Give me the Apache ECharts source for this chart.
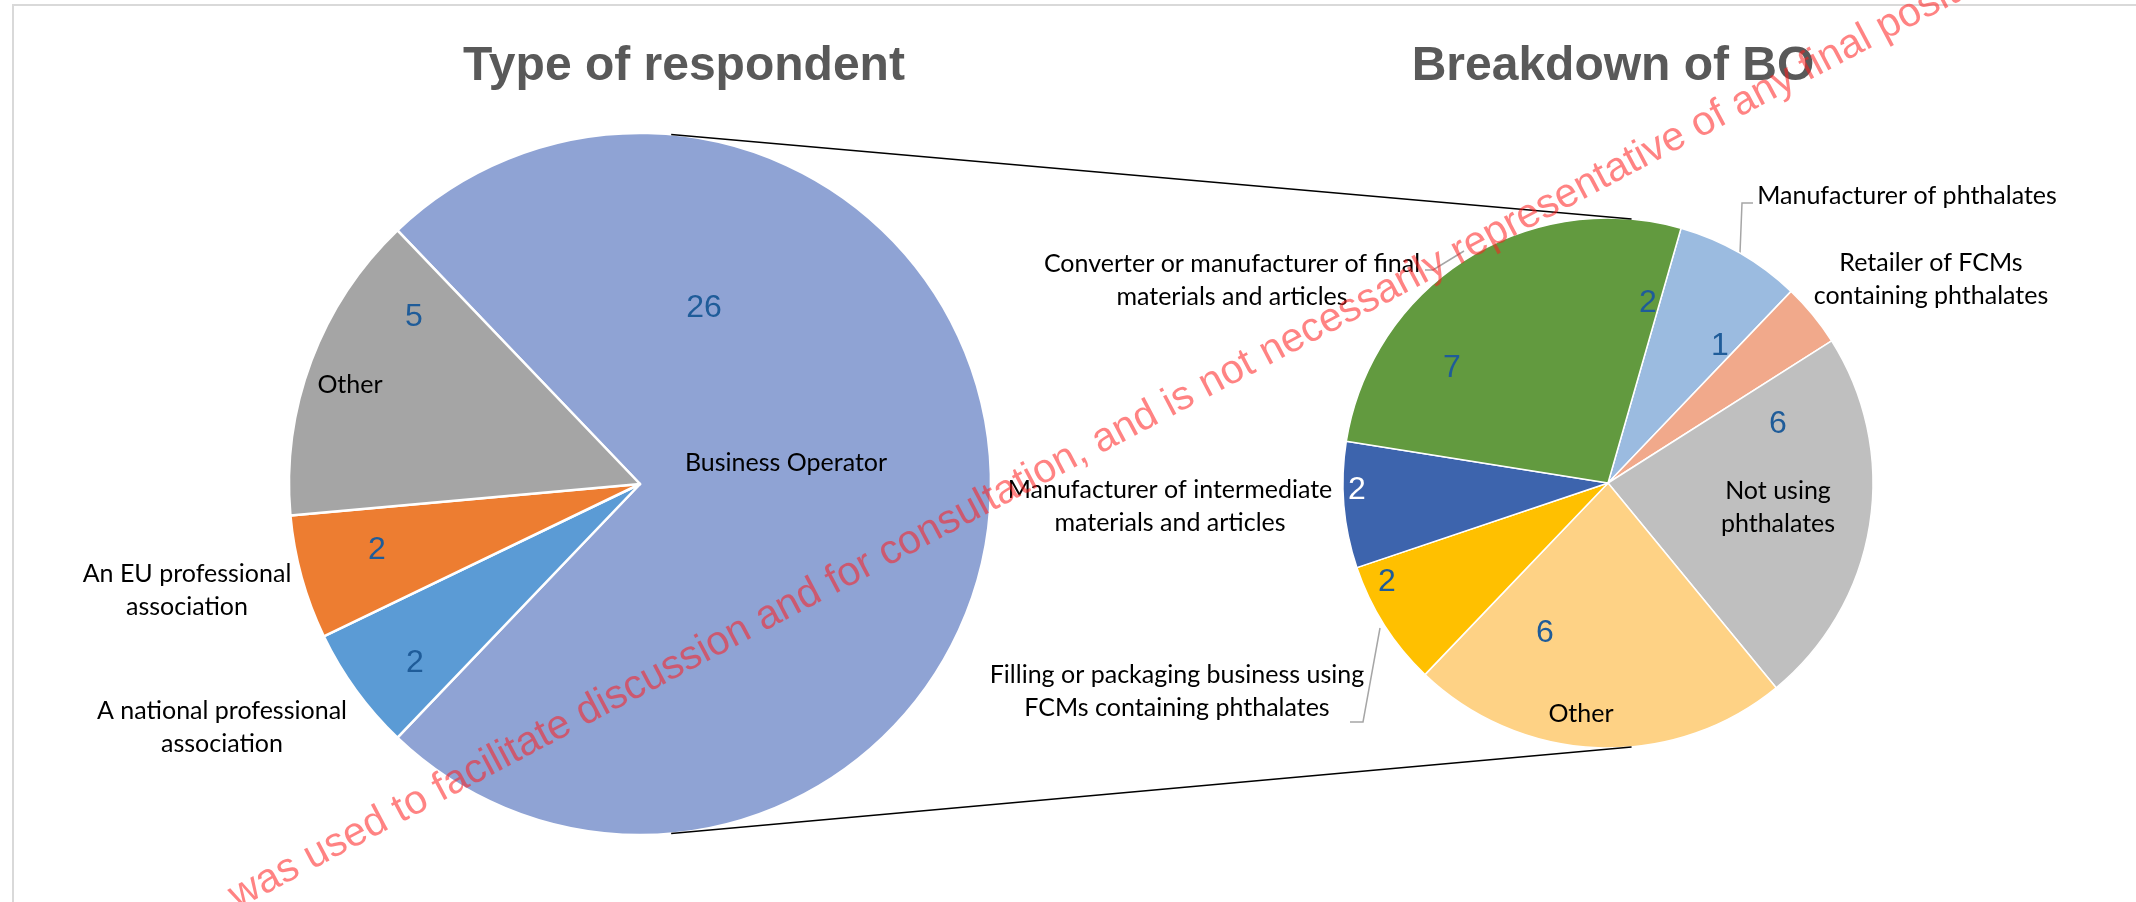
<!DOCTYPE html>
<html>
<head>
<meta charset="utf-8">
<title>Type of respondent / Breakdown of BO</title>
<script src="https://cdn.jsdelivr.net/npm/echarts@6/dist/echarts.min.js"></script>
<style>
  html, body { margin: 0; padding: 0; background: #fff; }
  #chart { width: 2136px; height: 902px; }
</style>
</head>
<body>
<div id="chart"></div>
<script>
// --- data ---
const chartTitles = ['Type of respondent', 'Breakdown of BO']
const respondentTypes = ['Business Operator', 'A national professional\nassociation', 'An EU professional\nassociation', 'Other']
const respondentCounts = [26, 2, 2, 5]
const boTypes = [
  'Manufacturer of phthalates',
  'Retailer of FCMs\ncontaining phthalates',
  'Not using\nphthalates',
  'Other',
  'Filling or packaging business using\nFCMs containing phthalates',
  'Manufacturer of intermediate\nmaterials and articles',
  'Converter or manufacturer of final\nmaterials and articles'
]
const boCounts = [2, 1, 6, 6, 2, 2, 7]

// --- look ---
const respondentColors = ['#8FA3D4', '#5B9BD5', '#ED7D31', '#A5A5A5']
const boColors = ['#9BBBE0', '#F1A98B', '#BFBFBF', '#FED285', '#FFC000', '#3D64AD', '#629A3F']
const valueColor = '#1F5C99'
const labelFont = 'Lato, "Open Sans", sans-serif'
const numFont = '"Liberation Sans", Arial, sans-serif'

// pie geometry (px)
const leftCenter = [640, 484]
const leftRadius = 351
const rightCenter = [1608, 483]
const rightRadius = 265
const rightStart = 74

// label placement (px), same order as the data
const leftValueAt = [[704, 308], [415, 663], [377, 550], [414, 317]]
const leftNameAt = [[786, 463], [222, 727], [187, 590], [350, 385]]
const boValueAt = [[1648, 303], [1720, 346], [1778, 424], [1545, 633], [1387, 582], [1357, 490], [1452, 368]]
const boNameAt = [[1907, 196], [1931, 279], [1778, 507], [1581, 714], [1177, 691], [1170, 506], [1232, 280]]
const boGuides = [
  [[1740, 253], [1742, 203], [1753, 203]],
  null, null, null,
  [[1380, 628], [1363, 722], [1350, 722]],
  null,
  [[1464, 251], [1433, 270], [1425, 270]]
]

const chart = echarts.init(document.getElementById('chart'))

const total = respondentCounts.reduce((a, b) => a + b, 0)
// split slice faces the second pie
const leftStart = respondentCounts[0] / total * 180

// outer tangent lines between the two pies
const d = rightCenter[0] - leftCenter[0]
const t = Math.asin((leftRadius - rightRadius) / d)
const tangent = (sign) => ({
  type: 'line',
  z: 5,
  shape: {
    x1: leftCenter[0] + leftRadius * Math.sin(t),
    y1: leftCenter[1] + sign * leftRadius * Math.cos(t),
    x2: rightCenter[0] + rightRadius * Math.sin(t),
    y2: rightCenter[1] + sign * rightRadius * Math.cos(t)
  },
  style: { stroke: '#000', lineWidth: 1.5 }
})

const placeAt = (list) => (p) => {
  const pt = list[p.dataIndex]
  return { x: pt[0], y: pt[1], align: 'center', verticalAlign: 'middle' }
}

const option = {
  backgroundColor: '#fff',
  animation: false,
  title: chartTitles.map((txt, i) => ({
    text: txt,
    left: i === 0 ? 679 : 1608,
    top: 38,
    textAlign: 'center',
    textStyle: { fontFamily: numFont, fontWeight: 'bold', fontSize: 48, color: '#595959' }
  })),
  graphic: [
    {
      type: 'rect',
      z: 0,
      shape: { x: 13, y: 5, width: 2300, height: 1100 },
      style: { fill: null, stroke: '#D9D9D9', lineWidth: 2 }
    },
    tangent(-1),
    tangent(1),
    {
      // watermark
      type: 'text',
      z: 100,
      x: 232,
      y: 899,
      rotation: 27.8 * Math.PI / 180,
      style: {
        text: 'was used to facilitate discussion and for consultation, and is not necessarily representative of any final position',
        font: '41px "Liberation Sans", Arial, sans-serif',
        fill: 'rgba(255, 30, 30, 0.55)',
        textAlign: 'left',
        textVerticalAlign: 'middle'
      }
    }
  ],
  series: [
    {
      type: 'pie',
      center: leftCenter,
      radius: [0, leftRadius],
      startAngle: leftStart,
      avoidLabelOverlap: false,
      emphasis: { disabled: true },
      itemStyle: { borderColor: '#fff', borderWidth: 2.5 },
      label: { show: true, position: 'inside', formatter: '{c}', color: valueColor, fontFamily: numFont, fontSize: 32 },
      labelLayout: placeAt(leftValueAt),
      data: respondentTypes.map((n, i) => ({ name: n, value: respondentCounts[i], itemStyle: { color: respondentColors[i] } }))
    },
    {
      type: 'pie',
      silent: true,
      center: leftCenter,
      radius: [0, leftRadius],
      startAngle: leftStart,
      avoidLabelOverlap: false,
      emphasis: { disabled: true },
      itemStyle: { color: 'rgba(0,0,0,0)', borderWidth: 0 },
      label: { show: true, position: 'inside', formatter: '{b}', color: '#000', fontFamily: labelFont, fontSize: 25, lineHeight: 33, width: 600 },
      labelLayout: placeAt(leftNameAt),
      data: respondentTypes.map((n, i) => ({ name: n, value: respondentCounts[i] }))
    },
    {
      type: 'pie',
      center: rightCenter,
      radius: [0, rightRadius],
      startAngle: rightStart,
      avoidLabelOverlap: false,
      emphasis: { disabled: true },
      itemStyle: { borderColor: '#fff', borderWidth: 1.5 },
      label: { show: true, position: 'inside', formatter: '{c}', color: valueColor, fontFamily: numFont, fontSize: 32 },
      labelLayout: placeAt(boValueAt),
      data: boTypes.map((n, i) => ({
        name: n,
        value: boCounts[i],
        itemStyle: { color: boColors[i] },
        label: i === 5 ? { color: '#fff' } : undefined
      }))
    },
    {
      type: 'pie',
      silent: true,
      center: rightCenter,
      radius: [0, rightRadius],
      startAngle: rightStart,
      avoidLabelOverlap: false,
      emphasis: { disabled: true },
      itemStyle: { color: 'rgba(0,0,0,0)', borderWidth: 0 },
      label: { show: true, position: 'outside', formatter: '{b}', color: '#000', fontFamily: labelFont, fontSize: 25, lineHeight: 33, width: 600 },
      labelLine: { show: true, lineStyle: { color: '#A6A6A6', width: 1.5 } },
      labelLayout: (p) => {
        const pt = boNameAt[p.dataIndex]
        const out = { x: pt[0], y: pt[1], align: 'center', verticalAlign: 'middle' }
        if (boGuides[p.dataIndex]) out.labelLinePoints = boGuides[p.dataIndex]
        return out
      },
      data: boTypes.map((n, i) => ({
        name: n,
        value: boCounts[i],
        labelLine: { show: !!boGuides[i] }
      }))
    }
  ]
}

chart.setOption(option)
</script>
</body>
</html>
